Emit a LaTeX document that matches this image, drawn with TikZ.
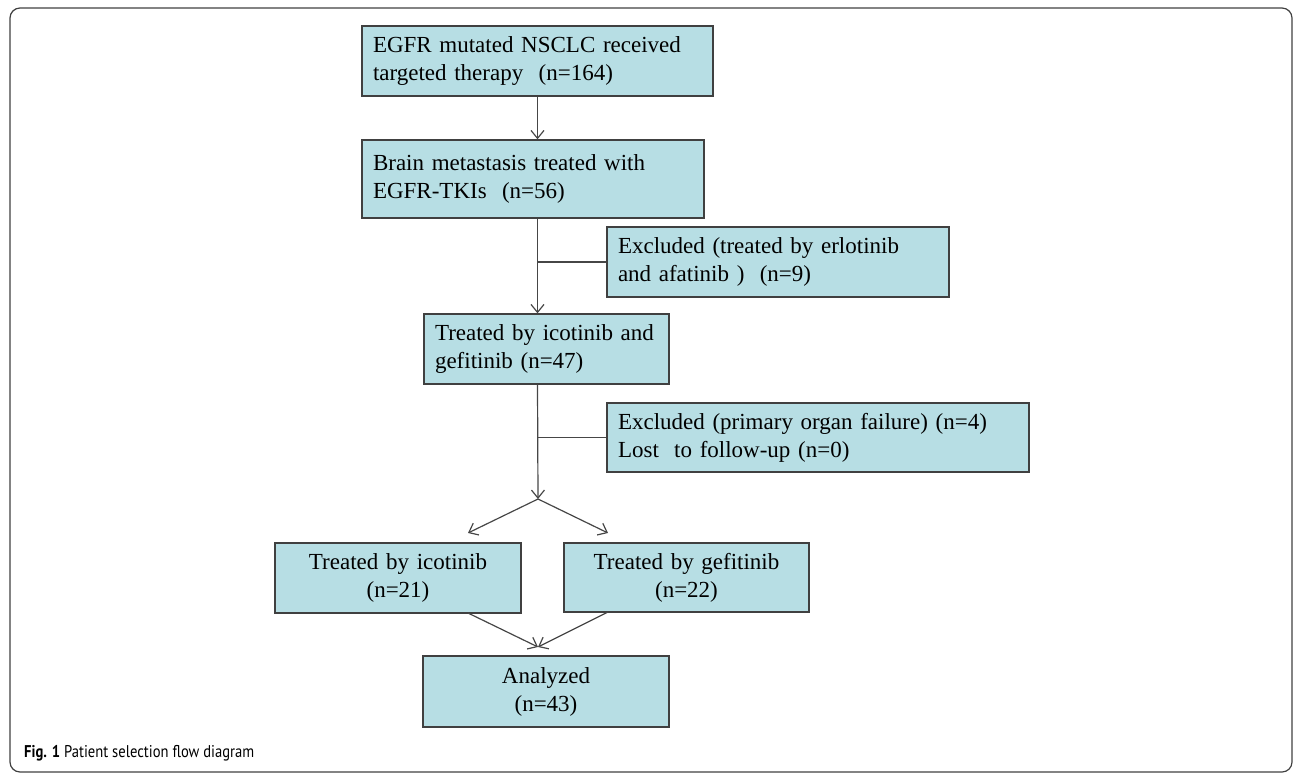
\documentclass[tikz,border=0pt]{standalone}
\usepackage{fontspec}
\setmainfont[WordSpace=0.8]{Liberation Serif}
\newfontfamily\capfont[FakeStretch=0.86]{PT Sans}
\usetikzlibrary{arrows.meta,calc}
\definecolor{boxfill}{RGB}{183,222,228}
\definecolor{boxline}{RGB}{64,64,64}
\definecolor{linegray}{RGB}{70,70,70}
\tikzset{
  box/.style={draw=boxline,fill=boxfill,line width=1.3pt,inner xsep=11pt,inner ysep=0pt,
    font=\fontsize{23}{28}\selectfont},
  lbox/.style={box,align=left},
  cbox/.style={box,align=center},
  conn/.style={draw=linegray,line width=1.2pt},
  arr/.style={conn,-{Straight Barb[length=8pt,width=13pt]}}
}
\begin{document}
\begin{tikzpicture}[x=1pt,y=-1pt]
	\useasboundingbox (0,0) rectangle (1293,774);
	% frame
	\draw[line width=1.2pt,color=black!75,rounded corners=10pt](10,8)rectangle(1292,772);
	% boxes
	\node[lbox,minimum width=351pt,minimum height=70pt,text width=329pt](top)at(537.5,61)
		{EGFR mutated NSCLC received\\targeted therapy~ (n=164)};
	\node[lbox,minimum width=342pt,minimum height=78pt,text width=320pt](brain)at(533,179)
		{Brain metastasis treated with\\EGFR-TKIs~ (n=56)};
	\node[lbox,minimum width=342pt,minimum height=70pt,text width=320pt](excla)at(778,262)
		{Excluded (treated by erlotinib\\and afatinib )~ (n=9)};
	\node[lbox,minimum width=245pt,minimum height=70pt,text width=223pt](both)at(546.5,349)
		{Treated by icotinib and\\gefitinib (n=47)};
	\node[lbox,minimum width=422pt,minimum height=69pt,text width=400pt](exclb)at(818,437.5)
		{Excluded (primary organ failure) (n=4)\\Lost~ to follow-up (n=0)};
	\node[cbox,minimum width=246pt,minimum height=70pt,text width=224pt](ico)at(398,578)
		{Treated by icotinib\\(n=21)};
	\node[cbox,minimum width=245pt,minimum height=69pt,text width=223pt](gef)at(686.5,577.5)
		{Treated by gefitinib\\(n=22)};
	\node[cbox,minimum width=246pt,minimum height=71pt,text width=224pt](ana)at(546,691.5)
		{Analyzed\\(n=43)};
	% points between the boxes
	\coordinate(split)at(538,499);
	\coordinate(icotip)at(468,533);
	\coordinate(geftip)at(608,533);
	\coordinate(icofoot)at(468,613);
	\coordinate(geffoot)at(608,612);
	\coordinate(anatip)at(538,647);
	% connectors
	\draw[arr](top.south)--(top.south|-brain.north);
	\draw[arr](top.south|-brain.south)--(top.south|-both.north);
	\draw[conn](excla.west)--(top.south|-excla.west);
	\draw[arr](top.south|-both.south)--(split);
	\draw[conn](exclb.west)--(top.south|-exclb.west);
	\draw[arr](split)--(icotip);
	\draw[arr](split)--(geftip);
	\draw[arr](icofoot)--(anatip);
	\draw[arr](geffoot)--(anatip);
	% caption
	\node[anchor=base west,inner sep=0pt,font=\capfont\fontsize{17}{20}\selectfont](cap)at(24,757)
		{\textbf{Fig. 1} Patient selection flow diagram};
\end{tikzpicture}
\end{document}
